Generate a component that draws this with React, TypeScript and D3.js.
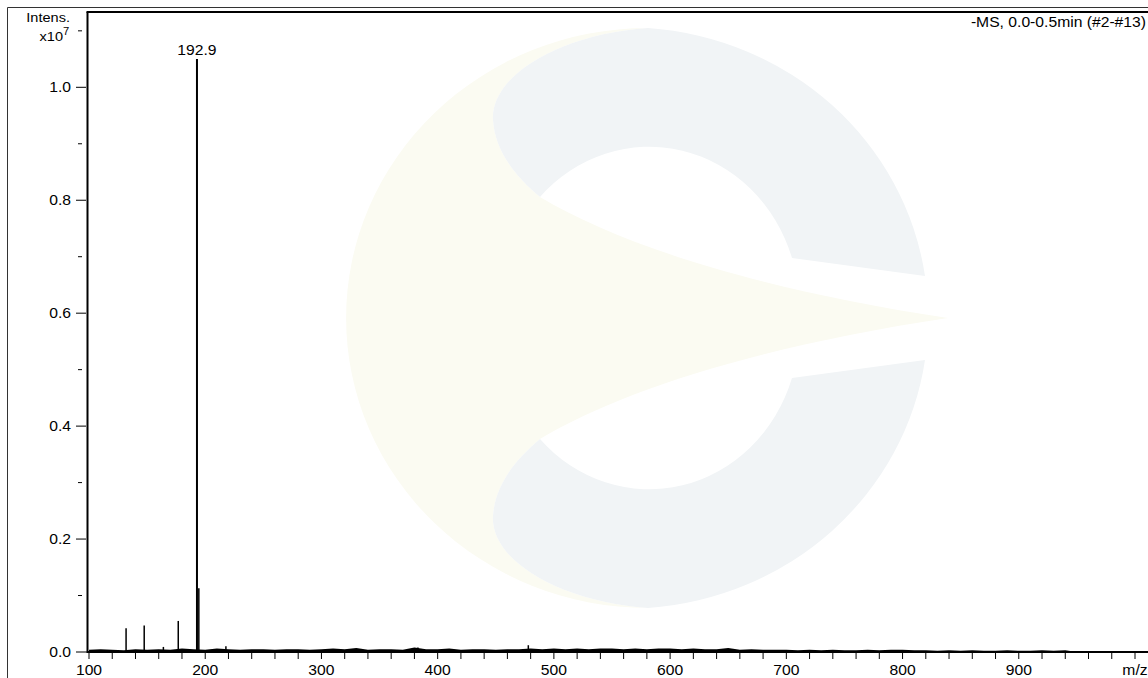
import React from "react";
import * as d3 from "d3";

// ---- data (intensity in units of 1e7) ----
const peakMz = [131.9, 147.5, 164.0, 176.8, 192.9, 194.5, 217.8, 383.0, 411.0, 478.0];
const peakIntensity = [0.042, 0.047, 0.009, 0.055, 1.05, 0.113, 0.01, 0.008, 0.004, 0.012];
const labelledPeak = 192.9;

const noiseMz = [
  100, 110, 120, 130, 140, 150, 160, 170, 180, 190,
  200, 210, 220, 230, 240, 250, 260, 270, 280, 290,
  300, 310, 320, 330, 340, 350, 360, 370, 380, 390,
  400, 410, 420, 430, 440, 450, 460, 470, 480, 490,
  500, 510, 520, 530, 540, 550, 560, 570, 580, 590,
  600, 610, 620, 630, 640, 650, 660, 670, 680, 690,
  700, 710, 720, 730, 740, 750, 760, 770, 780, 790,
  800, 810, 820, 830, 840, 850, 860, 870, 880, 890,
  900, 910, 920, 930, 940, 950,
];
const noiseLevel = [
  0.004, 0.005, 0.004, 0.003, 0.005, 0.004, 0.005, 0.004, 0.006, 0.005,
  0.004, 0.006, 0.005, 0.004, 0.005, 0.005, 0.004, 0.005, 0.005, 0.004,
  0.005, 0.006, 0.005, 0.007, 0.004, 0.005, 0.005, 0.004, 0.008, 0.005,
  0.005, 0.006, 0.004, 0.005, 0.005, 0.004, 0.005, 0.005, 0.006, 0.005,
  0.006, 0.005, 0.006, 0.005, 0.006, 0.006, 0.005, 0.006, 0.005, 0.006,
  0.006, 0.005, 0.006, 0.005, 0.005, 0.007, 0.004, 0.005, 0.004, 0.004,
  0.004, 0.003, 0.004, 0.003, 0.004, 0.003, 0.003, 0.004, 0.003, 0.004,
  0.004, 0.003, 0.003, 0.002, 0.003, 0.002, 0.003, 0.002, 0.002, 0.003,
  0.002, 0.002, 0.003, 0.002, 0.003, 0.0,
];

const xTickLabels = [100, 200, 300, 400, 500, 600, 700, 800, 900];
const yTickLabels = [0.0, 0.2, 0.4, 0.6, 0.8, 1.0];
const yMinorTicks = [0.1, 0.3, 0.5, 0.7, 0.9, 1.1];
const titleText = "-MS, 0.0-0.5min (#2-#13)";

const W = 1148;
const H = 678;
const FONT = "'Liberation Sans', Arial, sans-serif";
const SX = 1.12;

function Txt({ x, y, anchor = "start", size = 14, children }: any) {
  return (
    <text
      transform={`translate(${x},${y}) scale(${SX},1)`}
      textAnchor={anchor}
      fontFamily={FONT}
      fontSize={size}
      fill="#000"
    >
      {children}
    </text>
  );
}

function Watermark() {
  const edgeUp = "C 515,176 495,151 493,120 C 490,76 560,34 648,28";
  const blue =
    "M 648,28 A 302,290 0 0 1 925,276 L 792,258 A 150,160 0 0 0 540,197 " + edgeUp + " Z";
  const yellow =
    "M 648,28 A 302,290 0 0 0 648,608 C 560,602 490,560 493,516 C 495,485 515,460 540,439 " +
    "C 620,391 760,346 948,318 C 760,290 620,245 540,197 " + edgeUp + " Z";
  return (
    <g>
      <path d={yellow} fill="#fbfbf2" />
      <path d={blue} fill="#f1f4f6" />
      <path d={blue} fill="#f1f4f6" transform="translate(0,636) scale(1,-1)" />
    </g>
  );
}

export default function App() {
  const x = d3.scaleLinear().domain([100, 1000]).range([89, 1135]);
  const y = d3.scaleLinear().domain([0, 1]).range([652, 87.3]);

  const xTicks = d3.range(100, 1041, 20);
  const noiseData = noiseMz.map((m, i) => [m, noiseLevel[i]] as [number, number]);
  const noiseArea = d3
    .area<[number, number]>()
    .x((d) => x(d[0]))
    .y0(y(0))
    .y1((d) => y(d[1]))
    .curve(d3.curveLinear)(noiseData);

  const axisY = y(0);
  const plotLeft = 87.5;
  const plotTop = 12;

  return (
    <svg
      width={W}
      height={H}
      style={{ position: "absolute", left: 0, top: 0, background: "#fff" }}
    >
      <rect x={0} y={0} width={W} height={H} fill="#fff" />
      <Watermark />

      {/* outer frame */}
      <line x1={7.5} y1={7.5} x2={W} y2={7.5} stroke="#333" strokeWidth={1} />
      <line x1={7.5} y1={7.5} x2={7.5} y2={H} stroke="#333" strokeWidth={1} />

      {/* plot frame */}
      <line x1={plotLeft - 1} y1={plotTop} x2={W} y2={plotTop} stroke="#000" strokeWidth={2} />
      <line x1={plotLeft} y1={plotTop} x2={plotLeft} y2={axisY + 1} stroke="#000" strokeWidth={2} />
      <line x1={plotLeft - 1} y1={axisY} x2={W} y2={axisY} stroke="#000" strokeWidth={2} />

      {/* noise baseline */}
      <path d={noiseArea || ""} fill="#000" />

      {/* peaks */}
      {peakMz.map((m, i) => (
        <line
          key={i}
          x1={x(m)}
          x2={x(m)}
          y1={axisY}
          y2={y(peakIntensity[i])}
          stroke="#000"
          strokeWidth={peakIntensity[i] > 0.5 ? 2 : 1.5}
        />
      ))}
      <Txt
        x={x(labelledPeak)}
        y={y(peakIntensity[peakMz.indexOf(labelledPeak)]) - 4}
        anchor="middle"
      >
        {labelledPeak.toFixed(1)}
      </Txt>

      {/* x ticks */}
      {xTicks.map((t) => (
        <line key={t} x1={x(t)} x2={x(t)} y1={axisY + 1} y2={axisY + 7} stroke="#000" strokeWidth={1} />
      ))}
      {xTickLabels.map((t) => (
        <Txt key={t} x={x(t)} y={675} anchor="middle">
          {t}
        </Txt>
      ))}
      <Txt x={x(1000)} y={675} anchor="middle">
        m/z
      </Txt>

      {/* y ticks */}
      {yTickLabels.map((t) => (
        <g key={t}>
          <line x1={76} x2={86} y1={y(t)} y2={y(t)} stroke="#000" strokeWidth={1} />
          <Txt x={71} y={y(t) + 5} anchor="end">
            {t.toFixed(1)}
          </Txt>
        </g>
      ))}
      {yMinorTicks.map((t) => (
        <line key={t} x1={78} x2={82} y1={y(t)} y2={y(t)} stroke="#000" strokeWidth={1} />
      ))}

      {/* axis titles */}
      <Txt x={70} y={22} anchor="end" size={13}>
        Intens.
      </Txt>
      <Txt x={63} y={41} anchor="end" size={13}>
        x10
      </Txt>
      <Txt x={63} y={35} anchor="start" size={10}>
        7
      </Txt>
      <Txt x={1146} y={27} anchor="end">
        {titleText}
      </Txt>
    </svg>
  );
}
